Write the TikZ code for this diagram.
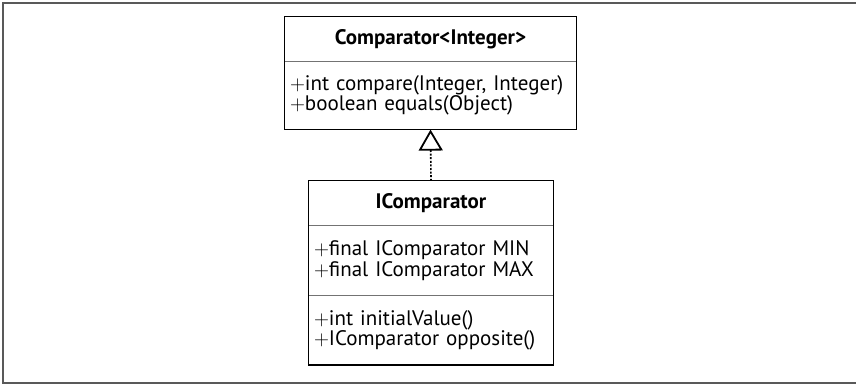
\documentclass[tikz,border=0pt]{standalone}
\usepackage{fontspec}
\setmainfont{PT Sans}
\usepackage{tikz}
\usetikzlibrary{arrows.meta, positioning}

\begin{document}
\begin{tikzpicture}[
  x=1pt, y=-1pt,
  title/.style={minimum height=44pt, inner sep=0pt,
                font=\fontsize{21}{20}\selectfont\bfseries},
  part/.style={text width=#1, align=left, inner xsep=5pt, inner ysep=0pt,
               font=\fontsize{21}{20.5}\selectfont},
  border/.style={draw=black, line width=1.3pt},
  sep/.style={draw=black!55, line width=1.3pt},
  realize/.style={-{Triangle[open, length=21pt, width=24pt, line width=1.8pt]},
                  line width=1.6pt, dash pattern=on 2pt off 1.6pt}
]
  \useasboundingbox (0,0) rectangle (856,385);
  \draw[black!65, line width=1.5pt] (856,3) -- (3,3) -- (3,383) -- (856,383);

  % Comparator<Integer>
  \node[title, minimum width=291pt] (cmpName) at (430.5,39) {Comparator<Integer>};
  \node[part=281pt, minimum height=68pt, below=0pt of cmpName] (cmpOps)
    {$+$int compare(Integer, Integer)\\$+$boolean equals(Object)};
  \draw[sep] (cmpName.south west) -- (cmpName.south east);
  \draw[border] (cmpName.north west) rectangle (cmpOps.south east);

  % IComparator
  \node[title, minimum width=244pt] (icName) at (431,203) {IComparator};
  \node[part=234pt, minimum height=70pt, below=0pt of icName] (icAttr)
    {$+$final IComparator MIN\\$+$final IComparator MAX};
  \node[part=234pt, minimum height=69pt, below=0pt of icAttr] (icOps)
    {$+$int initialValue()\\$+$IComparator opposite()};
  \draw[sep] (icName.south west) -- (icName.south east);
  \draw[sep] (icAttr.south west) -- (icAttr.south east);
  \draw[border] (icName.north west) rectangle (icOps.south east);

  \draw[realize] (icName.north) -- (cmpOps.south);
\end{tikzpicture}
\end{document}
